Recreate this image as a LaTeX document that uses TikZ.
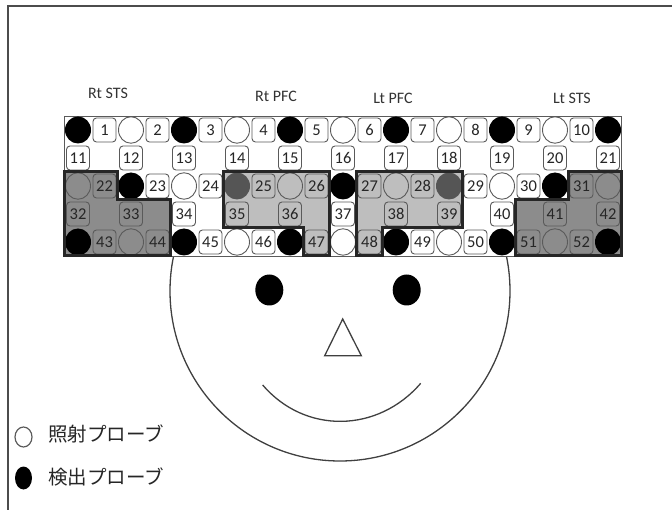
\documentclass[tikz,border=0pt]{standalone}
\usepackage{fontspec}
\setmainfont{Carlito}
\newfontfamily\jafont{Noto Sans CJK JP}
\usetikzlibrary{shapes.geometric}
\definecolor{stsgray}{HTML}{8C8C8C}
\definecolor{pfcgray}{HTML}{BEBEBE}
\definecolor{dimprobe}{HTML}{555555}
\definecolor{edge}{HTML}{5A5A5A}
\tikzset{
  emitter/.style={draw=edge,ellipse,minimum width=25pt,minimum height=26.5pt,
    inner sep=0pt,line width=0.9pt},
  detector/.style={fill=black,ellipse,minimum width=26pt,minimum height=27pt,
    inner sep=0pt},
  dimdet/.style={detector,fill=dimprobe},
  chan/.style={draw=edge,rounded corners=3.5pt,minimum width=23pt,
    minimum height=24pt,inner sep=0pt,line width=0.9pt,text=black!85,
    font=\fontsize{16.5}{16.5}\selectfont},
  roi/.style={draw=black!85,line width=3pt,line join=miter},
  roilabel/.style={font=\fontsize{16}{16}\selectfont,text=black!80,inner sep=0pt},
  headline/.style={draw=black!75,line width=1.3pt},
  keytext/.style={anchor=west,inner sep=0pt,text=black!85,
    font=\jafont\fontsize{19.5}{19.5}\selectfont}
}

\begin{document}
\begin{tikzpicture}[x=1pt,y=-1pt]
  \useasboundingbox (0,0) rectangle (672,510);
  \draw[black!70,line width=1.4pt] (8,510) -- (8,6) -- (672,6);

  % head
  \draw[headline] (340,291) circle[radius=170pt];
  \fill (269.3,290) ellipse[x radius=14pt,y radius=15.5pt];
  \fill (406.7,290) ellipse[x radius=14pt,y radius=15.5pt];
  \draw[headline] (342.7,319) -- (324.7,355.7) -- (361.3,355.7) -- cycle;
  \draw[headline] (262.7,385) .. controls (305,434.5) and (378,433) .. (420.7,383.3);

  % probe holder
  \draw[fill=white,draw=edge,line width=0.8pt] (64.75,116) rectangle (621.25,256);
  \fill[stsgray] (64.75,172) -- (117.75,172) -- (117.75,200) -- (170.75,200)
    -- (170.75,256) -- (64.75,256) -- cycle;
  \fill[pfcgray] (223.75,172) -- (329.75,172) -- (329.75,256) -- (303.25,256)
    -- (303.25,228) -- (223.75,228) -- cycle;
  \fill[pfcgray] (356.25,172) -- (462.25,172) -- (462.25,228) -- (382.75,228)
    -- (382.75,256) -- (356.25,256) -- cycle;
  \fill[stsgray] (568.25,172) -- (621.25,172) -- (621.25,256) -- (515.25,256)
    -- (515.25,200) -- (568.25,200) -- cycle;

  % probes and channels, rows 1 3 5
  \foreach \k in {0,1,2}{
    \foreach \j in {0,...,10}{
      \pgfmathtruncatemacro{\odd}{mod(\j+\k,2)}
      \pgfmathtruncatemacro{\dim}{(\k==1)&&((\j==3)||(\j==7))}
      \ifnum\odd=1 \def\kind{emitter}\else
        \ifnum\dim=1 \def\kind{dimdet}\else \def\kind{detector}\fi\fi
      \node[\kind] (p\k-\j) at ({78+53*\j},{130+56*\k}) {};
    }
    \foreach \j in {0,...,9}{
      \pgfmathtruncatemacro{\n}{1+21*\k+\j}
      \node[chan] (ch\n) at ({104.5+53*\j},{130+56*\k}) {\n};
    }
  }
  % channels, rows 2 4
  \foreach \m in {0,1}{
    \foreach \j in {0,...,10}{
      \pgfmathtruncatemacro{\n}{11+21*\m+\j}
      \node[chan] (ch\n) at ({78+53*\j},{158+56*\m}) {\n};
    }
  }

  % regions of interest
  \draw[roi] (64.75,172) -- (117.75,172) -- (117.75,200) -- (170.75,200)
    -- (170.75,256) -- (64.75,256) -- cycle;
  \draw[roi] (223.75,172) -- (329.75,172) -- (329.75,256) -- (303.25,256)
    -- (303.25,228) -- (223.75,228) -- cycle;
  \draw[roi] (356.25,172) -- (462.25,172) -- (462.25,228) -- (382.75,228)
    -- (382.75,256) -- (356.25,256) -- cycle;
  \draw[roi] (568.25,172) -- (621.25,172) -- (621.25,256) -- (515.25,256)
    -- (515.25,200) -- (568.25,200) -- cycle;

  \node[roilabel] (rsts) at (108,93) {Rt STS};
  \node[roilabel] (rpfc) at (276,96) {Rt PFC};
  \node[roilabel] (lpfc) at (393,98) {Lt PFC};
  \node[roilabel] (lsts) at (572,98) {Lt STS};

  % key
  \node[emitter,line width=1.2pt,minimum width=17pt,minimum height=20pt] (key-em) at (23.5,437) {};
  \node[detector,minimum width=17pt,minimum height=23pt] (key-det) at (23.5,478) {};
  \node[keytext] (key-em-txt) at (48,434) {照射プローブ};
  \node[keytext] (key-det-txt) at (48,477) {検出プローブ};
\end{tikzpicture}
\end{document}
